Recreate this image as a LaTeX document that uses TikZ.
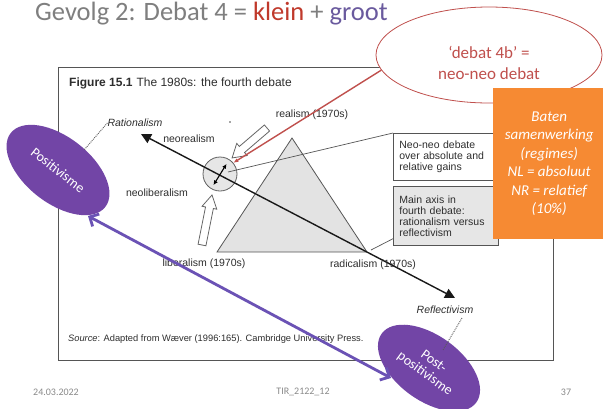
\documentclass[tikz,border=0pt]{standalone}
\usepackage{fontspec}
\setmainfont{Carlito}
\newfontfamily\figfont{Liberation Sans}
\usetikzlibrary{shapes.geometric,arrows.meta,calc}
\definecolor{titlegray}{HTML}{7F7F7F}
\definecolor{kleinred}{HTML}{C0392B}
\definecolor{grootpurple}{HTML}{6A5A9E}
\definecolor{calloutred}{HTML}{C0504D}
\definecolor{orangebox}{HTML}{F68A33}
\definecolor{purpleell}{HTML}{7245A6}
\definecolor{purplearr}{HTML}{6B52B5}
\definecolor{figgray}{HTML}{2E2E2E}
\definecolor{linegray}{HTML}{555555}
\definecolor{trifill}{HTML}{E3E3E3}
\definecolor{boxgray}{HTML}{E6E6E6}
\definecolor{footgray}{HTML}{8A8A8A}
\begin{document}
\begin{tikzpicture}[x=1pt,y=-1pt,
  figtxt/.style={font=\figfont\fontsize{10.5}{12}\selectfont, text=figgray, inner sep=0pt},
  figital/.style={font=\figfont\itshape\fontsize{10.5}{12}\selectfont, text=figgray, inner sep=0pt},
  figbox/.style={draw=linegray, line width=0.7pt, anchor=north west, align=left,
    text width=93pt, inner xsep=6pt, inner ysep=0pt,
    font=\figfont\fontsize{10.5}{11}\selectfont, text=figgray},
  thinline/.style={draw=linegray, line width=0.7pt},
  hollow/.style={draw=gray!80!black, fill=white, line width=0.8pt},
  axisline/.style={draw=black!90, line width=1.4pt,
    {Triangle[length=10pt,width=10pt]}-{Triangle[length=10pt,width=10pt]}},
  dotline/.style={draw=gray!70!black, line width=0.9pt, densely dotted},
  purpleblob/.style={ellipse, fill=purpleell, inner sep=0pt, text=white,
    font=\fontsize{14}{15}\selectfont, align=center},
  footer/.style={text=footgray, font=\fontsize{10}{12}\selectfont, inner sep=0pt}
]
\fill[white] (0,0) rectangle (603,408);
\useasboundingbox (0,0) rectangle (603,408);

% title
\node[anchor=base west, inner sep=0pt, text=titlegray, font=\fontsize{26.5}{30}\selectfont]
  (title) at (35,20) {Gevolg 2: Debat 4 = \textcolor{kleinred}{klein} + \textcolor{grootpurple}{groot}};

% figure frame
\draw[draw=linegray, line width=0.8pt] (58,67) rectangle (553,360);
\node[figtxt, anchor=west, font=\figfont\fontsize{12}{14}\selectfont] (figtitle) at (69,83)
  {\textbf{Figure 15.1}\hspace{4pt}The 1980s: the fourth debate};

% triangle and circle
\draw[draw=linegray, line width=0.8pt, fill=trifill] (292,138) -- (217,252) -- (367,252) -- cycle;
\node[circle, draw=gray!75!black, line width=0.8pt, fill=boxgray, minimum size=34pt, inner sep=0pt] (circ) at (220,174) {};

% boxes
\node[figbox, fill=white, minimum height=47pt] (box1) at (393,133)
  {Neo-neo debate\\over absolute and\\relative gains};
\node[figbox, fill=boxgray, minimum height=59pt] (box2) at (393,186)
  {Main axis in\\fourth debate:\\rationalism versus\\reflectivism};
\coordinate (circIn) at (228,172);
\coordinate (axisPt) at (371,250);
\coordinate (box2Out) at ($(box2.south west)+(0,-7)$);
\draw[thinline] (box1.north west) -- (circIn);
\draw[thinline] (box2Out) -- (axisPt);

% main axis
\coordinate (ratTip) at (141,134);
\coordinate (refTip) at (455,298);
\draw[axisline] (ratTip) -- (refTip);

% small double arrow inside circle
\coordinate (da1) at (226.5,164);
\coordinate (da2) at (213.5,185);
\draw[line width=1.1pt, {Latex[length=4.5pt,width=4.5pt]}-{Latex[length=4.5pt,width=4.5pt]}] (da1) -- (da2);

% hollow block arrows
\draw[hollow, shift={(267,128)}, rotate=220.6]
  (0,-4) -- (33,-4) -- (33,-8) -- (46,0) -- (33,8) -- (33,4) -- (0,4) -- cycle;
\draw[hollow, shift={(202,245)}, rotate=78.7]
  (0,-4) -- (38,-4) -- (38,-7.5) -- (51,0) -- (38,7.5) -- (38,4) -- (0,4) -- cycle;
\fill[black!70] (230,122) circle (0.8);

% labels
\node[figtxt] (realism) at (312,115) {realism (1970s)};
\node[figtxt] (neorealism) at (189,139) {neorealism};
\node[figtxt] (neoliberalism) at (157,193) {neoliberalism};
\node[figtxt] (liberalism) at (204,264) {liberalism (1970s)};
\node[figtxt] (radicalism) at (373,265) {radicalism (1970s)};
\node[figital] (rat) at (135,123) {Rationalism};
\node[figital] (refl) at (445,310) {Reflectivism};
\node[figtxt, anchor=west, font=\figfont\fontsize{9.3}{11}\selectfont] (source) at (68,339)
  {\textit{Source}: Adapted from Wæver (1996:165). Cambridge University Press.};

% purple ellipses and arrow
\node[purpleblob, minimum width=120pt, minimum height=66pt, rotate=-38] (pos) at (58,170) {Positivisme};
\node[purpleblob, minimum width=117pt, minimum height=65pt, rotate=-36] (post) at (429,368) {Post-\\positivisme};
\coordinate (posDot) at (84,150);
\coordinate (postDot) at (443,350);
\coordinate (reflDot) at (462,318);
\draw[dotline] (rat.west) -- (posDot);
\draw[dotline] (reflDot) -- (postDot);
\coordinate (posTip) at (88,216);
\coordinate (postTip) at (391,378);
\draw[draw=purplearr, line width=2.8pt,
  {Straight Barb[length=7pt,width=14pt]}-{Straight Barb[length=7pt,width=14pt]}] (posTip) -- (postTip);

% callout
\node[ellipse, draw=calloutred, line width=0.8pt, fill=white, minimum width=226pt,
  minimum height=96pt, inner sep=0pt] (callout) at (489,55) {};
\node[text=calloutred, font=\fontsize{17}{21}\selectfont, align=center, inner sep=0pt]
  (calloutText) at (489,62.5) {‘debat 4b’ =\\neo-neo debat};
\draw[draw=calloutred, line width=1.4pt, -{Latex[length=5pt,width=4pt]}] (callout.188) -- (circ.40);

% orange box
\node[fill=orangebox, anchor=north west, minimum width=112pt, minimum height=151pt, inner sep=0pt,
  text=white, align=center, font=\itshape\fontsize{15}{18.4}\selectfont] (orange) at (493,88)
  {Baten\\samenwerking\\(regimes)\\NL = absoluut\\NR = relatief\\(10\%)};

% footer
\node[footer] (date) at (56,392) {24.03.2022};
\node[footer] (code) at (303,392) {TIR\_2122\_12};
\node[footer] (page) at (566,392) {37};
\end{tikzpicture}
\end{document}
